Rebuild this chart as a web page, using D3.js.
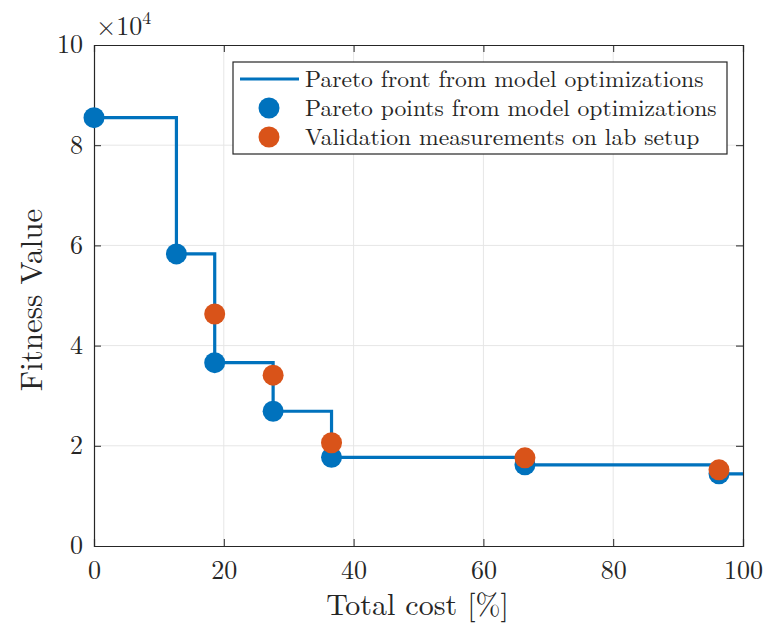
<!DOCTYPE html>
<meta charset="utf-8">
<script src="https://d3js.org/d3.v7.min.js"></script>
<body style="margin:0; background:#fff">
<div id="my_dataviz"></div>
<script>
  // Pareto points (cost %, fitness x1e4)
  const paretoCost = [0, 12.7, 18.6, 27.6, 36.6, 66.4, 96.3];
  const paretoFit = [8.55, 5.83, 3.66, 2.69, 1.77, 1.62, 1.44];
  // validation measurements
  const valCost = [18.6, 27.6, 36.6, 66.4, 96.3];
  const valFit = [4.63, 3.41, 2.06, 1.76, 1.52];
  const xTicks = [0, 20, 40, 60, 80, 100];
  const yTicks = [0, 2, 4, 6, 8, 10];
  const legendLabels = ["Pareto front from model optimizations",
    "Pareto points from model optimizations",
    "Validation measurements on lab setup"];

  const font = "'Latin Modern Roman', 'CMU Serif', 'Liberation Serif', serif";
  const ink = "#262626";
  const blue = "#0072BD", orange = "#D95319";
  const margin = { top: 45, right: 23, bottom: 78, left: 94 },
    width = 766 - margin.left - margin.right,
    height = 624 - margin.top - margin.bottom;

  const svg = d3.select("#my_dataviz")
    .append("svg")
    .attr("width", 766)
    .attr("height", 624)
    .append("g")
    .attr("transform", `translate(${margin.left}, ${margin.top})`);

  const x = d3.scaleLinear().domain([0, 100]).range([0, width]);
  const y = d3.scaleLinear().domain([0, 10]).range([height, 0]);

  // grid
  svg.append("g").selectAll("line").data(xTicks.slice(1, -1)).join("line")
    .attr("x1", d => x(d)).attr("x2", d => x(d))
    .attr("y1", 0).attr("y2", height)
    .attr("stroke", "#e6e6e6").attr("stroke-width", 1);
  svg.append("g").selectAll("line").data(yTicks.slice(1, -1)).join("line")
    .attr("y1", d => y(d)).attr("y2", d => y(d))
    .attr("x1", 0).attr("x2", width)
    .attr("stroke", "#e6e6e6").attr("stroke-width", 1);

  // axes (MATLAB style: ticks inside, full box)
  const tk = 7;
  const axB = svg.append("g").attr("transform", `translate(0, ${height})`)
    .call(d3.axisBottom(x).tickValues(xTicks).tickSize(-tk).tickPadding(13));
  const axL = svg.append("g")
    .call(d3.axisLeft(y).tickValues(yTicks).tickSize(-tk).tickPadding(11));
  svg.append("g")
    .call(d3.axisTop(x).tickValues(xTicks).tickSize(-tk).tickFormat(""));
  svg.append("g").attr("transform", `translate(${width}, 0)`)
    .call(d3.axisRight(y).tickValues(yTicks).tickSize(-tk).tickFormat(""));
  svg.selectAll(".domain").attr("stroke", ink).attr("stroke-width", 1.2);
  svg.selectAll(".tick line").attr("stroke", ink);
  svg.selectAll(".tick text")
    .style("font-family", font).style("font-size", "26px").attr("fill", ink);
  axB.selectAll(".tick text").attr("dy", "0.78em");
  axL.selectAll(".tick text").attr("dy", "0.3em");

  // Pareto front stair line
  const frontPts = paretoCost.map((c, i) => [c, paretoFit[i]]);
  frontPts.push([100, paretoFit[paretoFit.length - 1]]);
  svg.append("path")
    .datum(frontPts)
    .attr("fill", "none")
    .attr("stroke", blue)
    .attr("stroke-width", 3.2)
    .attr("d", d3.line().x(d => x(d[0])).y(d => y(d[1])).curve(d3.curveStepAfter));

  // Pareto points
  svg.selectAll("circle.p")
    .data(paretoCost.map((c, i) => [c, paretoFit[i]]))
    .join("circle")
    .attr("class", "p")
    .attr("cx", d => x(d[0])).attr("cy", d => y(d[1]))
    .attr("r", 10.5).attr("fill", blue);

  // validation points
  svg.selectAll("circle.v")
    .data(valCost.map((c, i) => [c, valFit[i]]))
    .join("circle")
    .attr("class", "v")
    .attr("cx", d => x(d[0])).attr("cy", d => y(d[1]))
    .attr("r", 10.5).attr("fill", orange);

  // axis labels
  svg.append("text")
    .attr("x", 417.5 - margin.left).attr("y", 615 - margin.top)
    .attr("text-anchor", "middle")
    .style("font-family", font).style("font-size", "30px").attr("fill", ink)
    .text("Total cost [%]");
  svg.append("text")
    .attr("transform", `translate(${42 - margin.left}, ${300 - margin.top}) rotate(-90)`)
    .attr("text-anchor", "middle")
    .style("font-family", font).style("font-size", "31px").attr("fill", ink)
    .text("Fitness Value");

  // exponent
  const ex = svg.append("text").attr("x", 96 - margin.left).attr("y", 35 - margin.top)
    .style("font-family", font).style("font-size", "26px").attr("fill", ink);
  ex.append("tspan").text("\u00d710");
  ex.append("tspan").attr("dy", -11).style("font-size", "18px").text("4");

  // legend
  const lg = svg.append("g").attr("transform", `translate(${233 - margin.left}, ${62 - margin.top})`);
  lg.append("rect").attr("width", 494).attr("height", 92)
    .attr("fill", "#fff").attr("stroke", ink).attr("stroke-width", 1.2);
  const rowY = [17, 46, 75];
  lg.append("line").attr("x1", 7).attr("x2", 66).attr("y1", rowY[0]).attr("y2", rowY[0])
    .attr("stroke", blue).attr("stroke-width", 3.2);
  lg.append("circle").attr("cx", 36).attr("cy", rowY[1]).attr("r", 10.5).attr("fill", blue);
  lg.append("circle").attr("cx", 36).attr("cy", rowY[2]).attr("r", 10.5).attr("fill", orange);
  lg.selectAll("text.l").data(legendLabels).join("text")
    .attr("class", "l")
    .attr("x", 72).attr("y", (d, i) => rowY[i])
    .attr("dy", "0.32em")
    .style("font-family", font).style("font-size", "23.6px").attr("fill", ink)
    .text(d => d);
</script>
</body>
